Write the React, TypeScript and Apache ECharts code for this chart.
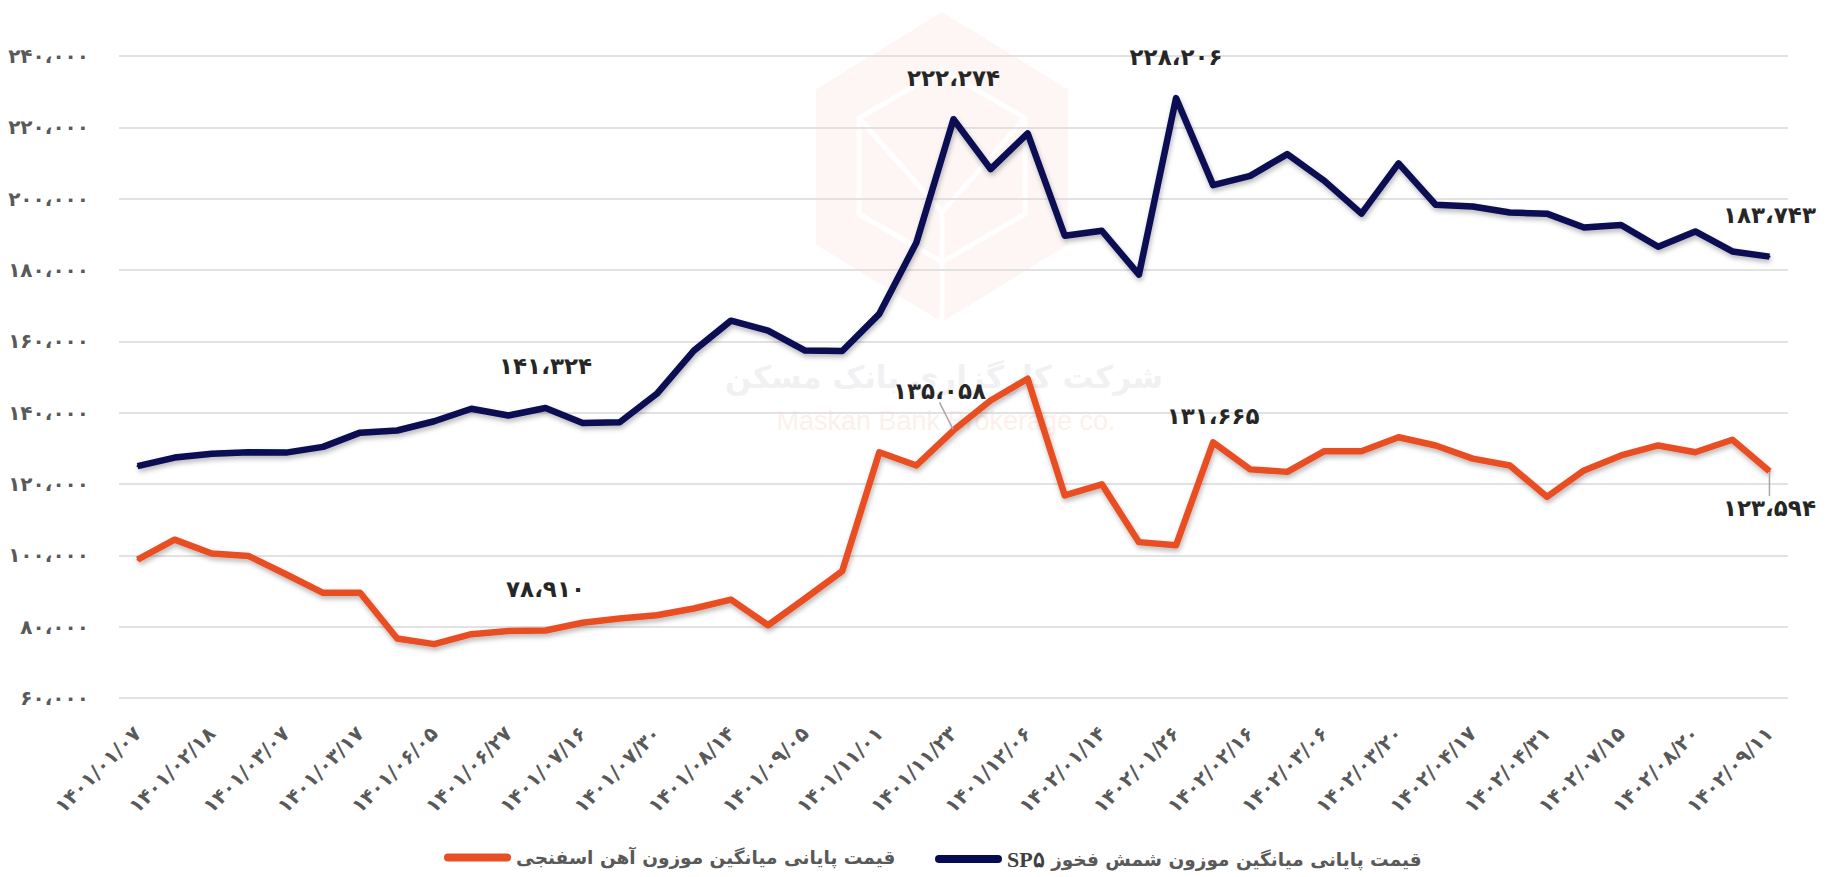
import React, { useEffect, useRef } from "react";
import * as echarts from "echarts";

// ---- data ----
const tickLabels: string[] = [
  "۱۴۰۱/۰۱/۰۷", "۱۴۰۱/۰۲/۱۸", "۱۴۰۱/۰۳/۰۷", "۱۴۰۱/۰۳/۱۷", "۱۴۰۱/۰۶/۰۵",
  "۱۴۰۱/۰۶/۲۷", "۱۴۰۱/۰۷/۱۶", "۱۴۰۱/۰۷/۳۰", "۱۴۰۱/۰۸/۱۴", "۱۴۰۱/۰۹/۰۵",
  "۱۴۰۱/۱۱/۰۱", "۱۴۰۱/۱۱/۲۳", "۱۴۰۱/۱۲/۰۶", "۱۴۰۲/۰۱/۱۴", "۱۴۰۲/۰۱/۲۶",
  "۱۴۰۲/۰۲/۱۶", "۱۴۰۲/۰۳/۰۶", "۱۴۰۲/۰۳/۲۰", "۱۴۰۲/۰۴/۱۷", "۱۴۰۲/۰۴/۳۱",
  "۱۴۰۲/۰۷/۱۵", "۱۴۰۲/۰۸/۲۰", "۱۴۰۲/۰۹/۱۱",
];

const navyValues: number[] = [
  125000, 127400, 128500, 128900, 128800, 130400, 134400, 135000, 137600, 141100,
  139200, 141324, 137100, 137300, 145300, 157400, 165800, 163000, 157400, 157300,
  167700, 187700, 222274, 208300, 218300, 189600, 191000, 178700, 228206, 203800,
  206400, 212500, 205000, 195800, 209900, 198300, 197800, 196100, 195800, 191900,
  192600, 186500, 190800, 185200, 183743,
];

const orangeValues: number[] = [
  98800, 104400, 100500, 99800, 94700, 89500, 89500, 76700, 75100, 77900,
  78800, 78910, 81100, 82300, 83200, 85100, 87600, 80400, 87900, 95600,
  128900, 125200, 135058, 143400, 149500, 116800, 119900, 103700, 102800, 131665,
  124100, 123400, 129200, 129200, 133100, 130800, 127100, 125200, 116400, 123800,
  128000, 130800, 128900, 132400, 123594,
];

const navyLabelIdx: number[] = [11, 22, 28, 44];
const orangeLabelIdx: number[] = [11, 22, 29, 44];

const orangeName = "قیمت پایانی میانگین موزون آهن اسفنجی";
const navyTitle = "قیمت پایانی میانگین موزون شمش فخوز";
const navyCode = "SP۵";
const navyName = navyTitle + " " + navyCode;

const watermarkFa = "شرکت کارگزاری بانک مسکن";
const watermarkEn = "Maskan Bank Brokerage co.";

// ---- helpers ----
const FA = "۰۱۲۳۴۵۶۷۸۹";
const toFa = (s: string) => s.replace(/\d/g, (d) => FA[+d]);
const fmt = (v: number) =>
  toFa(String(Math.round(v)).replace(/\B(?=(\d{3})+(?!\d))/g, "،"));

const categories = navyValues.map((_, i) => (i % 2 === 0 ? tickLabels[i / 2] : ""));

const NAVY = "#070c52";
const ORANGE = "#e94e24";
const LABEL_COLOR = "#262626";
const AXIS_TEXT = "#595959";

function buildData(values: number[], labelIdx: number[], placement: (i: number) => any) {
  return values.map((v, i) => {
    if (labelIdx.indexOf(i) < 0) return v;
    return { value: v, ...placement(i) };
  });
}

export default function App() {
  const ref = useRef<HTMLDivElement>(null);

  useEffect(() => {
    document.body.style.margin = "0";
    if (!ref.current) return;
    const chart = echarts.init(ref.current, undefined, { renderer: "svg" });

    const labelBase = {
      show: true,
      color: LABEL_COLOR,
      fontSize: 23,
      fontWeight: "bold",
      fontFamily: "DejaVu Sans",
      formatter: (p: any) => fmt(p.value),
    };
    const guide = { show: true, lineStyle: { color: "#a6a6a6", width: 1.5 } };

    const navyData = buildData(navyValues, navyLabelIdx, () => ({
      label: { ...labelBase, position: "top", distance: 29 },
    }));

    const orangeData = buildData(orangeValues, orangeLabelIdx, (i) => {
      if (i === 22)
        return {
          label: { ...labelBase, position: "top", distance: 26 },
          labelLine: guide,
        };
      if (i === 29)
        return { label: { ...labelBase, position: "top", distance: 14 } };
      if (i === 44)
        return {
          label: { ...labelBase, position: "bottom", distance: 24, offset: [3, 0] },
          labelLine: guide,
        };
      return { label: { ...labelBase, position: "top", distance: 29 } };
    });

    const cx = 942, cy = 167, r = 155, hw = 126;
    const hex = (x: number, y: number, rr: number, w: number) => [
      [x, y - rr], [x + w, y - rr / 2], [x + w, y + rr / 2],
      [x, y + rr], [x - w, y + rr / 2], [x - w, y - rr / 2],
    ];
    const inner = hex(cx, cy - 1, 96, 83);

    const lineShadow = {
      shadowColor: "rgba(0,0,0,0.28)",
      shadowBlur: 5,
      shadowOffsetX: 1,
      shadowOffsetY: 3,
    };

    const legendIcon = "path://M4 0H63A4 4 0 0 1 63 8H4A4 4 0 0 1 4 0Z";

    const option: any = {
      animation: false,
      backgroundColor: "#ffffff",
      textStyle: { fontFamily: "DejaVu Sans" },
      graphic: [
        {
          type: "polygon",
          z: -10,
          silent: true,
          shape: { points: hex(cx, cy, r, hw) },
          style: { fill: "#fdf6f5" },
        },
        {
          type: "polygon",
          z: -9,
          silent: true,
          shape: { points: inner },
          style: { fill: "none", stroke: "#ffffff", lineWidth: 5 },
        },
        {
          type: "polyline",
          z: -9,
          silent: true,
          shape: { points: [inner[5], [cx, cy + 45], inner[1]] },
          style: { stroke: "#ffffff", lineWidth: 5, fill: "none" },
        },
        {
          type: "line",
          z: -9,
          silent: true,
          shape: { x1: cx, y1: cy + 45, x2: cx, y2: cy + r },
          style: { stroke: "#ffffff", lineWidth: 5 },
        },
        {
          type: "text",
          z: -8,
          silent: true,
          style: {
            text: watermarkFa,
            x: 944,
            y: 377,
            align: "center",
            verticalAlign: "middle",
            fill: "#f1f1f3",
            font: "bold 31px 'DejaVu Sans'",
          },
        },
        {
          type: "text",
          z: -8,
          silent: true,
          style: {
            text: watermarkEn,
            x: 946,
            y: 421,
            align: "center",
            verticalAlign: "middle",
            fill: "#fdefec",
            font: "27px 'Liberation Sans'",
          },
        },
      ],
      grid: { left: 119, right: 45, top: 56, bottom: 179 },
      legend: [
        {
          left: 439,
          top: 843,
          itemWidth: 67,
          itemHeight: 8,
          icon: legendIcon,
          textStyle: { color: AXIS_TEXT, fontSize: 18.5, fontWeight: "bold", fontFamily: "DejaVu Sans" },
          data: [orangeName],
        },
        {
          left: 930,
          top: 843,
          itemWidth: 67,
          itemHeight: 8,
          icon: legendIcon,
          textStyle: {
            color: AXIS_TEXT,
            fontSize: 18.5,
            fontFamily: "DejaVu Sans",
            rich: {
              b: {
                fontFamily: "Liberation Serif",
                fontWeight: "bold",
                fontSize: 22,
                color: "#404040",
              },
              t: { color: AXIS_TEXT, fontSize: 18.5, fontWeight: "bold", fontFamily: "DejaVu Sans" },
            },
          },
          formatter: (name: string) =>
            name === navyName ? `{b|${navyCode}}{t| ${navyTitle}}` : name,
          data: [navyName],
        },
      ],
      xAxis: {
        type: "category",
        data: categories,
        boundaryGap: true,
        axisLine: { show: false },
        axisTick: { show: false },
        axisLabel: {
          interval: 0,
          rotate: 45,
          margin: 32,
          color: AXIS_TEXT,
          fontSize: 20,
          fontWeight: "bold",
          fontFamily: "DejaVu Sans",
        },
      },
      yAxis: {
        type: "value",
        min: 60000,
        max: 240000,
        interval: 20000,
        axisLine: { show: false },
        axisTick: { show: false },
        axisLabel: {
          formatter: (v: number) => fmt(v),
          color: AXIS_TEXT,
          fontSize: 20,
          fontWeight: "bold",
          margin: 30,
          fontFamily: "DejaVu Sans",
        },
        splitLine: { lineStyle: { color: "#d9d9d9", width: 1.5 } },
      },
      series: [
        {
          name: orangeName,
          type: "line",
          data: orangeData,
          color: ORANGE,
          showSymbol: true,
          showAllSymbol: true,
          symbol: "circle",
          symbolSize: 2,
          itemStyle: { color: ORANGE },
          lineStyle: { color: ORANGE, width: 6.5, join: "round", ...lineShadow },
          label: { show: false },
          labelLine: { show: false },
          labelLayout: (p: any) => (p.dataIndex === 22 ? { dx: -14, dy: -1 } : {}),
          z: 3,
        },
        {
          name: navyName,
          type: "line",
          data: navyData,
          color: NAVY,
          showSymbol: true,
          showAllSymbol: true,
          symbol: "circle",
          symbolSize: 2,
          itemStyle: { color: NAVY },
          lineStyle: { color: NAVY, width: 6.5, join: "round", ...lineShadow },
          label: { show: false },
          z: 3,
        },
      ],
    };

    chart.setOption(option);
    return () => chart.dispose();
  }, []);

  return <div ref={ref} style={{ width: 1833, height: 877 }} />;
}
